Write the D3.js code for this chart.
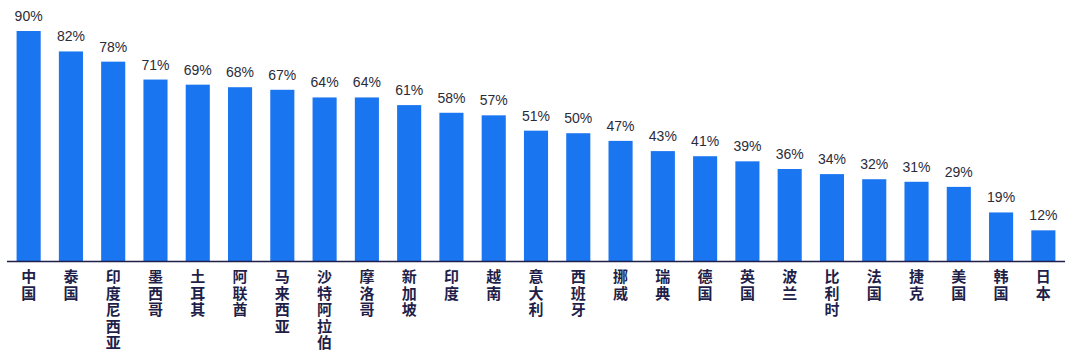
<!DOCTYPE html>
<html><head><meta charset="utf-8">
<script src="https://cdn.jsdelivr.net/npm/d3@7"></script>
<style>html,body{margin:0;padding:0;background:#fff;}</style>
</head><body>
<svg id="chart" width="1080" height="362"></svg>
<script>
const categories = ["中国","泰国","印度尼西亚","墨西哥","土耳其","阿联酋","马来西亚","沙特阿拉伯","摩洛哥","新加坡","印度","越南","意大利","西班牙","挪威","瑞典","德国","英国","波兰","比利时","法国","捷克","美国","韩国","日本"];
const values = [90,82,78,71,69,68,67,64,64,61,58,57,51,50,47,43,41,39,36,34,32,31,29,19,12];
const valueLabels = values.map(v => v + "%");

const svg = d3.select("#chart");
const x = d3.scaleBand().domain(categories).range([7.5, 1064.5]).paddingInner(0.43).paddingOuter(0.215);
const y = d3.scaleLinear().domain([0, 90]).range([261, 31]);

svg.selectAll("rect.bar").data(values).enter().append("rect")
  .attr("class","bar")
  .attr("x",(d,i)=>x(categories[i]))
  .attr("width",x.bandwidth())
  .attr("y",d=>y(d))
  .attr("height",d=>y(0)-y(d))
  .attr("fill","#1a75f0");

svg.selectAll("text.val").data(values).enter().append("text")
  .attr("class","val")
  .attr("x",(d,i)=>x(categories[i])+x.bandwidth()/2)
  .attr("y",d=>y(d)-10)
  .attr("text-anchor","middle")
  .attr("font-family","Liberation Sans, Arial, sans-serif")
  .attr("font-size",14)
  .attr("fill","#2b2b3a")
  .text((d,i)=>valueLabels[i]);

svg.append("line").attr("x1",7).attr("x2",1065).attr("y1",261.5).attr("y2",261.5)
  .attr("stroke","#1f1f4a").attr("stroke-width",1.5);

svg.selectAll("text.cat").data(categories).enter().append("text")
  .attr("class","cat")
  .attr("x",d=>x(d)+x.bandwidth()/2)
  .attr("y",269)
  .attr("font-family","Noto Sans CJK SC, sans-serif")
  .attr("font-weight","bold")
  .attr("font-size",15)
  .attr("fill","#1f1f4a")
  .style("writing-mode","vertical-rl")
  .style("text-orientation","upright")
  .style("letter-spacing","1.5px")
  .text(d=>d);
</script>
</body></html>
